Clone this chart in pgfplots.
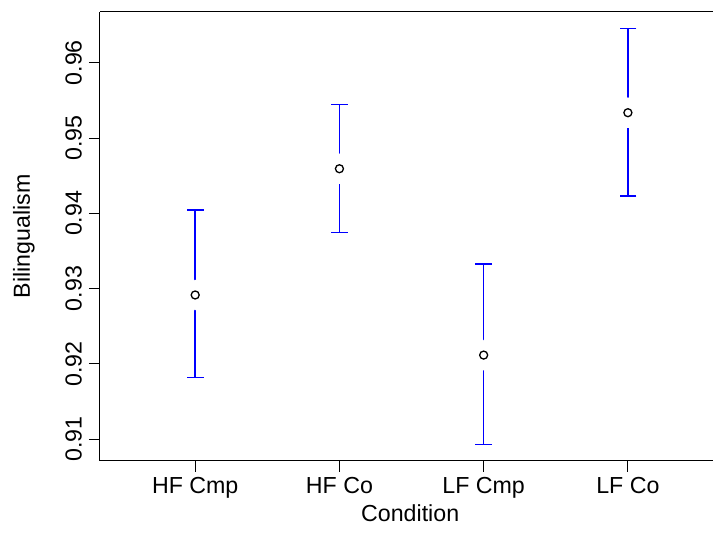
\documentclass[border=0pt]{standalone}
\usepackage{pgfplots}
\usepackage{pgfplotstable}
\pgfplotsset{compat=1.18}
\usepackage{fontspec}
\setmainfont{Liberation Sans}
\definecolor{rblue}{RGB}{0,0,255}
% condition means
\pgfplotstableread{
x m
1 0.92916
2 0.94592
3 0.92118
4 0.95336
}\means
% confidence interval bounds (lower, upper), one segment per condition
\pgfplotstableread{
x y
1 0.91822
1 0.94044
1 nan
2 0.93742
2 0.95448
2 nan
3 0.90936
3 0.93327
3 nan
4 0.94230
4 0.96457
}\bounds
\begin{document}
\begin{tikzpicture}
\begin{axis}[
  name=ax, at={(0,0)}, anchor=south west,
  scale only axis, width=306.5pt, height=224.5pt,
  xmin=0.34, xmax=4.59, ymin=0.90716, ymax=0.96677,
  axis x line=box, axis y line=left,
  axis line style={-, line width=0.5pt, black},
  every tick/.style={black, line width=0.5pt},
  xtick={1,2,3,4}, xticklabels={HF Cmp, HF Co, LF Cmp, LF Co},
  ytick={0.91,0.92,0.93,0.94,0.95,0.96},
  xtick pos=left, ytick pos=left,
  tick align=outside, major tick length=5.5pt,
  /pgf/number format/assume math mode=true,
  /pgf/number format/fixed, /pgf/number format/precision=2, /pgf/number format/fixed zerofill,
  tick label style={font=\fontsize{11.6}{14}\selectfont},
  yticklabel style={rotate=90, anchor=south},
  xticklabel style={anchor=north, yshift=0.5pt},
  label style={font=\fontsize{11.6}{14}\selectfont},
  xlabel={Condition},
  ylabel={Bilingualism},
  xlabel style={at={(axis description cs:0.506,-0.118)}, anchor=center},
  ylabel style={at={(axis description cs:-0.124,0.5)}, anchor=center},
  clip=false,
  unbounded coords=jump,
]
\addplot[draw=rblue, line width=0.8pt, mark=-, mark size=4.2pt, mark options={draw=rblue, line width=0.6pt}]
  table[x=x, y=y] {\bounds};
\addplot[white, only marks, mark=*, mark size=7.4pt]
  table[x=x, y=m] {\means};
\addplot[black, only marks, mark=o, mark size=2pt, mark options={line width=0.65pt}]
  table[x=x, y=m] {\means};
\end{axis}
\pgfresetboundingbox
\path[use as bounding box] ([xshift=-50pt, yshift=-42.15pt]ax.south west) rectangle ([yshift=5.85pt]ax.north east);
\end{tikzpicture}
\end{document}
